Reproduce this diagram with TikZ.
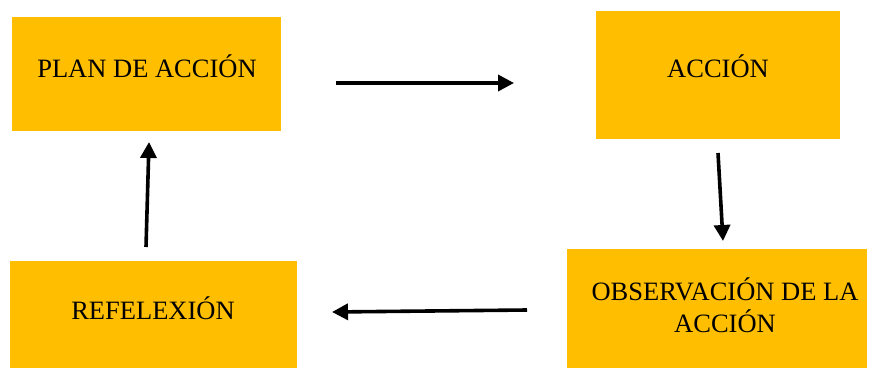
\documentclass[tikz,border=0pt]{standalone}
\usepackage{fontspec}
\setmainfont{Liberation Serif}
\usetikzlibrary{arrows.meta}
\definecolor{boxgold}{HTML}{FFBE00}
\tikzset{
  box/.style={fill=boxgold, draw=none, inner sep=0pt},
  lbl/.style={font=\fontsize{26.5}{32}\selectfont, align=center, inner sep=0pt},
  conn/.style={line width=3.6pt, -{Triangle[length=16pt,width=16pt]}},
}
\begin{document}
\begin{tikzpicture}[x=1pt,y=-1pt]
\useasboundingbox (0,0) rectangle (869,369);
% boxes
\node[box, minimum width=269pt, minimum height=114pt] (plan) at (146.5,74) {};
\node[box, minimum width=244pt, minimum height=128pt] (accion) at (718,75) {};
\node[box, minimum width=300pt, minimum height=119pt] (obs) at (717,308.5) {};
\node[box, minimum width=287pt, minimum height=107pt] (refl) at (153.5,314.5) {};
% labels
\node[lbl] (tplan) at (147,66) {PLAN DE ACCIÓN};
\node[lbl] (taccion) at (718,66) {ACCIÓN};
\node[lbl] (tobs) at (725,305) {OBSERVACIÓN DE LA\\ACCIÓN};
\node[lbl] (trefl) at (153,308) {REFELEXIÓN};
% connector ends
\coordinate (a1) at (336,83);
\coordinate (a2) at (514,83);
\coordinate (b1) at (718,153);
\coordinate (b2) at (723,241);
\coordinate (c1) at (527,310);
\coordinate (c2) at (332,312);
\coordinate (d1) at (146,247);
\coordinate (d2) at (149,142);
\draw[conn] (a1) -- (a2);
\draw[conn] (b1) -- (b2);
\draw[conn] (c1) -- (c2);
\draw[conn] (d1) -- (d2);
\end{tikzpicture}
\end{document}
